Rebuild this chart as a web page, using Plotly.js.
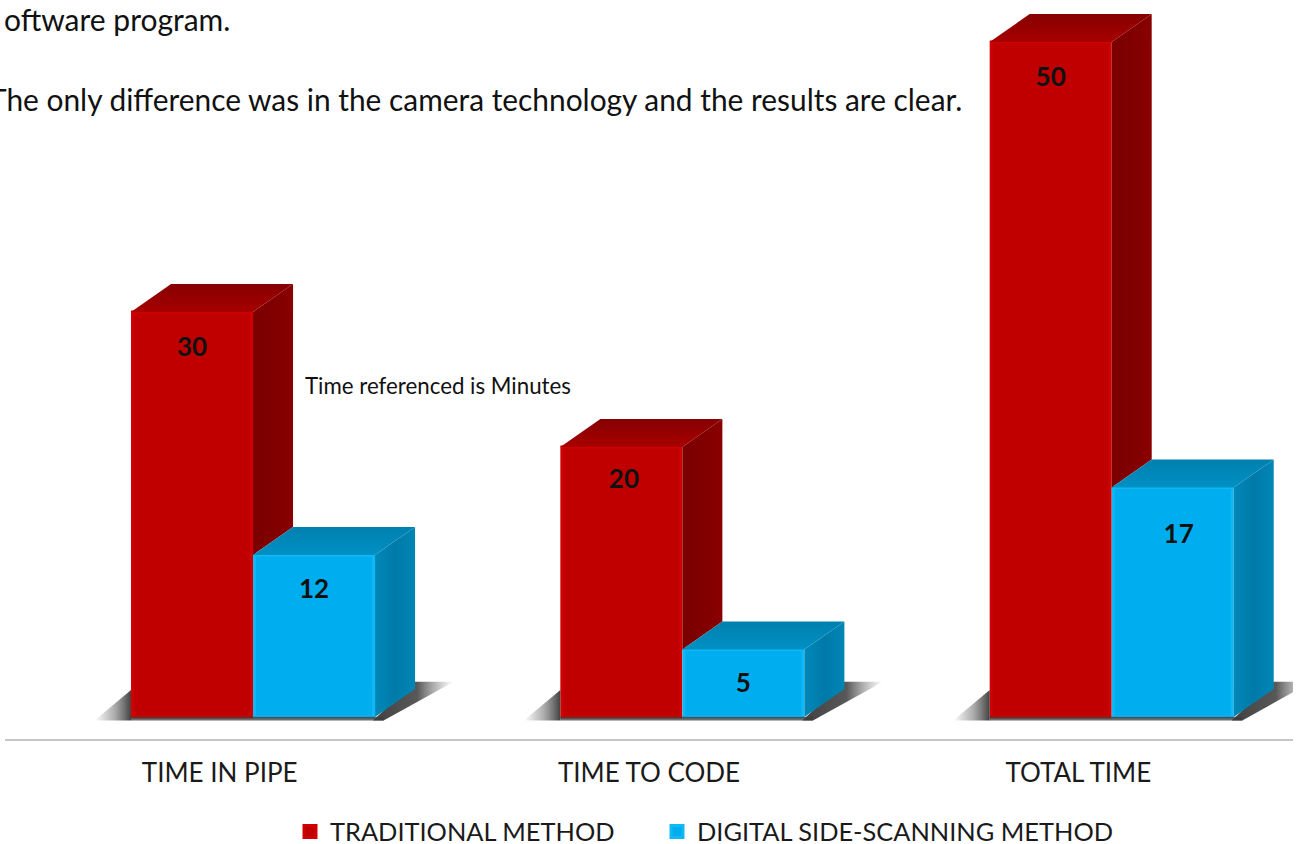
<!DOCTYPE html>
<html>
<head>
<meta charset="utf-8">
<script src="https://cdn.plot.ly/plotly-3.0.1.min.js"></script>
<style>html,body{margin:0;padding:0;background:#fff;overflow:hidden}#chart{width:1298px;height:844px}</style>
</head>
<body>
<div id="chart"></div>
<script>
const categories = ['TIME IN PIPE', 'TIME TO CODE', 'TOTAL TIME'];
const traditional = [30, 20, 50];
const digital = [12, 5, 17];
const seriesNames = ['TRADITIONAL METHOD', 'DIGITAL SIDE-SCANNING METHOD'];
const positions = [0, 1, 2];

// label placement relative to bar top / bar centre (units of the axes)
const redLabelDrop = [2.8, 2.55, 2.75];
const blueLabelDrop = [2.72, 2.67, 3.62];
const redLabelShift = [0, 0.006, 0];
const blueLabelShift = [0, 0, 0.014];

const barW = 0.2842, redOff = -0.2065, blueOff = 0.0777;
const edge = 3 / 429.33;
const dx = 0.0932, dy = 2.07;
const FONT = 'Lato, "Open Sans", sans-serif';

function poly(xs, ys, fill, gradient) {
  const t = {type:'scatter', mode:'lines', x:[...xs, xs[0]], y:[...ys, ys[0]], fill:'toself',
    line:{width:0}, hoverinfo:'skip', showlegend:false, cliponaxis:false};
  if (gradient) { t.fillgradient = gradient; } else { t.fillcolor = fill; }
  return t;
}
const shadowL = {type:'horizontal', colorscale:[[0,'rgba(90,90,90,0)'],[0.55,'rgba(90,90,90,0.5)'],[1,'rgba(55,55,55,0.95)']]};
const shadowR = {type:'horizontal', colorscale:[[0,'rgba(55,55,55,0.95)'],[0.55,'rgba(70,70,70,0.9)'],[1,'rgba(120,120,120,0)']]};
const topRed = {type:'vertical', colorscale:[[0,'#a80000'],[1,'#860000']]};
const sideRed = {type:'horizontal', colorscale:[[0,'#7b0000'],[0.5,'#800000'],[1,'#8a0000']]};
const topBlue = {type:'vertical', colorscale:[[0,'#0090c4'],[1,'#0080ae']]};
const sideBlue = {type:'horizontal', colorscale:[[0,'#0088b8'],[0.5,'#007aa8'],[1,'#0086b6']]};

const traces = [];
// bars
traces.push({type:'bar', name:seriesNames[0], x:positions, y:traditional, width:barW-edge, offset:redOff+edge/2,
  marker:{color:'#c00000', line:{color:'#d00000', width:3}}, hoverinfo:'skip', legend:'legend'});
traces.push({type:'bar', name:seriesNames[1], x:positions, y:digital, width:barW-edge, offset:blueOff+edge/2,
  marker:{color:'#00aeef', line:{color:'#10b9f5', width:3}}, hoverinfo:'skip', legend:'legend2'});

positions.forEach((p, i) => {
  const rL = p + redOff, rR = rL + barW, bL = p + blueOff, bR = bL + barW;
  const a = traditional[i], b = digital[i];
  // floor shadows
  traces.push(poly([rL-0.085, rL, rL], [-0.25, 2.0, -0.25], null, shadowL));
  traces.push(poly([bR-0.005, bR+dx, bR+dx+0.09, bR+0.02], [-0.25, dy+0.55, dy+0.55, -0.25], null, shadowR));
  traces.push(poly([rL, bR+0.02, bR+0.02, rL], [0.02, 0.02, -0.25, -0.25], 'rgba(60,60,60,0.75)'));
  // red depth faces
  traces.push(poly([rR, rR+dx, rR+dx, rR], [a, a+dy, b+dy, b], null, sideRed));
  traces.push(poly([rL, rL+dx, rR+dx, rR], [a, a+dy, a+dy, a], null, topRed));
  // blue depth faces
  traces.push(poly([bR, bR+dx, bR+dx, bR], [b, b+dy, dy, 0], null, sideBlue));
  traces.push(poly([bL, bL+dx, bR+dx, bR], [b, b+dy, b+dy, b], null, topBlue));
});

// data labels
traces.push({type:'scatter', mode:'text', x:positions.map((p,i) => p+redOff+barW/2+redLabelShift[i]), y:traditional.map((v,i) => v-redLabelDrop[i]),
  text:traditional.map(String), textposition:'middle center', showlegend:false, hoverinfo:'skip',
  textfont:{family:FONT, size:26, color:'#111', weight:700}});
traces.push({type:'scatter', mode:'text', x:positions.map((p,i) => p+blueOff+barW/2+blueLabelShift[i]), y:digital.map((v,i) => v-blueLabelDrop[i]),
  text:digital.map(String), textposition:'middle center', showlegend:false, hoverinfo:'skip',
  textfont:{family:FONT, size:26, color:'#111', weight:700}});

const PW = 1288, PH = 739;
const px = v => (v-5)/PW, py = v => 1-v/PH;
const legendFont = {family:FONT, size:25.4, color:'#1a1a1a'};
const layout = {
  width:1298, height:844, margin:{l:5, r:5, t:0, b:105, autoexpand:false},
  paper_bgcolor:'#fff', plot_bgcolor:'#fff', barmode:'overlay',
  font:{family:FONT, color:'#1a1a1a'},
  xaxis:{range:[-0.5, 2.5], tickmode:'array', tickvals:positions, ticktext:categories, ticks:'',
    ticklabelstandoff:10, tickfont:{family:FONT, size:26, color:'#1a1a1a'}, showgrid:false, zeroline:false,
    showline:true, linecolor:'#c6c6c6', linewidth:2, fixedrange:true},
  yaxis:{range:[-22/13.5, 739/13.5 - 22/13.5], visible:false, fixedrange:true},
  legend:{x:px(290), xanchor:'left', y:py(832), yanchor:'middle', font:legendFont, bgcolor:'rgba(0,0,0,0)'},
  legend2:{x:px(657), xanchor:'left', y:py(832), yanchor:'middle', font:legendFont, bgcolor:'rgba(0,0,0,0)'},
  annotations:[
    {xref:'paper', yref:'paper', x:px(2), y:py(19), xanchor:'left', yanchor:'middle', showarrow:false,
      text:'oftware program.', font:{family:FONT, size:30, color:'#111'}},
    {xref:'paper', yref:'paper', x:px(-13), y:py(99), xanchor:'left', yanchor:'middle', showarrow:false,
      text:'The only difference was in the camera technology and the results are clear.', font:{family:FONT, size:29.88, color:'#111'}},
    {xref:'paper', yref:'paper', x:px(303), y:py(385.5), xanchor:'left', yanchor:'middle', showarrow:false,
      text:'Time referenced is Minutes', font:{family:FONT, size:22.3, color:'#111'}}
  ]
};
Plotly.newPlot('chart', traces, layout, {displayModeBar:false, staticPlot:true});
</script>
</body>
</html>
